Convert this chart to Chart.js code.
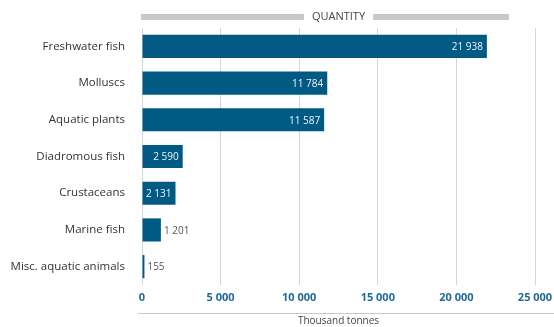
<!DOCTYPE html>
<html>
<head>
<meta charset="utf-8">
<script src="https://cdn.jsdelivr.net/npm/chart.js@4"></script>
<style>
  html, body { margin: 0; padding: 0; background: #fff; }
  #wrap { width: 554px; height: 327px; }
</style>
</head>
<body>
<div id="wrap"><canvas id="quantityChart"></canvas></div>
<script>
// Aquaculture production by species group
const groups = ["Freshwater fish", "Molluscs", "Aquatic plants", "Diadromous fish", "Crustaceans", "Marine fish", "Misc. aquatic animals"];
const quantities = [21938, 11784, 11587, 2590, 2131, 1201, 155];
const axisTicks = [0, 5000, 10000, 15000, 20000, 25000];
const headerText = "QUANTITY";
const axisTitle = "Thousand tonnes";

const barColor = "#005a84";
const labelFont = "'Open Sans', sans-serif";

// Format numbers with a space as thousands separator
function fmt(n) {
  return String(n).replace(/\B(?=(\d{3})+(?!\d))/g, " ");
}

// Header band, value labels and bottom rule
const decorations = {
  id: "decorations",
  afterDatasetsDraw(chart) {
    const ctx = chart.ctx;
    const area = chart.chartArea;
    const meta = chart.getDatasetMeta(0);

    ctx.save();
    ctx.font = "10px " + labelFont;
    ctx.textBaseline = "middle";
    meta.data.forEach((bar, i) => {
      const text = fmt(quantities[i]);
      const w = ctx.measureText(text).width;
      const barW = bar.x - bar.base;
      if (barW > w + 3) {
        ctx.fillStyle = "#eef4f8";
        ctx.textAlign = "right";
        ctx.fillText(text, bar.x - 4, bar.y + 1);
      } else {
        ctx.fillStyle = "#555555";
        ctx.textAlign = "left";
        ctx.fillText(text, bar.x + 3, bar.y + 1);
      }
    });

    // QUANTITY header with grey bands
    const cx = (area.left + area.right) / 2;
    const y = 17;
    ctx.font = "11px " + labelFont;
    ctx.textAlign = "center";
    ctx.fillStyle = "#444444";
    ctx.fillText(headerText, cx, y);
    const half = ctx.measureText(headerText).width / 2 + 8;
    ctx.fillStyle = "#c8c8c8";
    ctx.fillRect(area.left - 1, y - 3, cx - half - area.left + 1, 6);
    ctx.fillRect(cx + half, y - 3, area.right - 26 - (cx + half), 6);

    // rule between tick labels and axis title
    ctx.fillStyle = "#c8c8c8";
    ctx.fillRect(area.left - 4, area.bottom + 28, chart.width - area.left + 4, 1);
    ctx.restore();
  }
};

new Chart(document.getElementById("quantityChart").getContext("2d"), {
  type: "bar",
  data: {
    labels: groups,
    datasets: [
      {
        label: "Quantity",
        data: quantities,
        backgroundColor: barColor,
        barPercentage: 0.63,
        categoryPercentage: 1,
      },
    ],
  },
  options: {
    indexAxis: "y",
    responsive: true,
    maintainAspectRatio: false,
    animation: false,
    layout: { padding: { top: 28, right: 0, bottom: 0, left: 0 } },
    plugins: {
      legend: { display: false },
      tooltip: { enabled: false },
    },
    scales: {
      x: {
        min: 0,
        max: 25000,
        afterBuildTicks: (scale) => {
          scale.ticks = axisTicks.map((v) => ({ value: v }));
        },
        afterFit: (scale) => {
          scale.height = 42;
          scale.paddingRight = 19;
        },
        grid: { color: "#d6d6d6", drawTicks: false },
        border: { display: false },
        ticks: {
          padding: 6,
          color: "#1f6a96",
          font: { family: labelFont, size: 11, weight: "bold" },
          callback: (v) => fmt(v),
        },
        title: {
          display: true,
          text: axisTitle,
          color: "#444444",
          font: { family: labelFont, size: 10 },
          padding: { top: 0, bottom: 0 },
        },
      },
      y: {
        afterFit: (scale) => {
          scale.width = 142;
        },
        grid: { display: false },
        border: { display: false },
        ticks: {
          padding: 9,
          color: "#333333",
          font: { family: labelFont, size: 11.5 },
        },
      },
    },
  },
  plugins: [decorations],
});
</script>
</body>
</html>
